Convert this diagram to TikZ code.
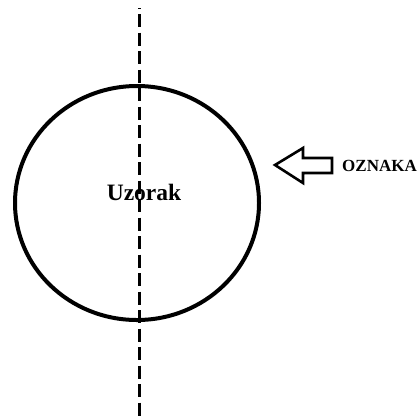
\documentclass[tikz,border=0pt]{standalone}
\usepackage{fontspec}
\usetikzlibrary{shapes.geometric}
\setmainfont{Liberation Serif}
\begin{document}
\begin{tikzpicture}[x=1pt,y=-1pt,
  axisline/.style={line width=3pt, dash pattern=on 13pt off 5.5pt},
  lbl/.style={inner sep=0pt}]
\useasboundingbox (0,0) rectangle (419,418);
\coordinate (top) at (139,8);
\coordinate (bot) at (139,418);
\draw[axisline, dash phase=-6pt] (top) -- (bot);
\node[ellipse, draw, line width=4pt, minimum width=244pt, minimum height=234pt, inner sep=0pt] (sample) at (137,203) {};
\node[lbl, font=\fontsize{23.5}{25}\selectfont\bfseries] (uz) at (144,192) {Uzorak};
\draw[line width=2.6pt, line join=miter] (275,165) -- (303,148) -- (303,158) -- (332,158) -- (332,173) -- (303,173) -- (303,183) -- cycle;
\node[lbl, font=\fontsize{17}{19}\selectfont\bfseries, anchor=west] (oz) at (342,166) {OZNAKA};
\end{tikzpicture}
\end{document}
